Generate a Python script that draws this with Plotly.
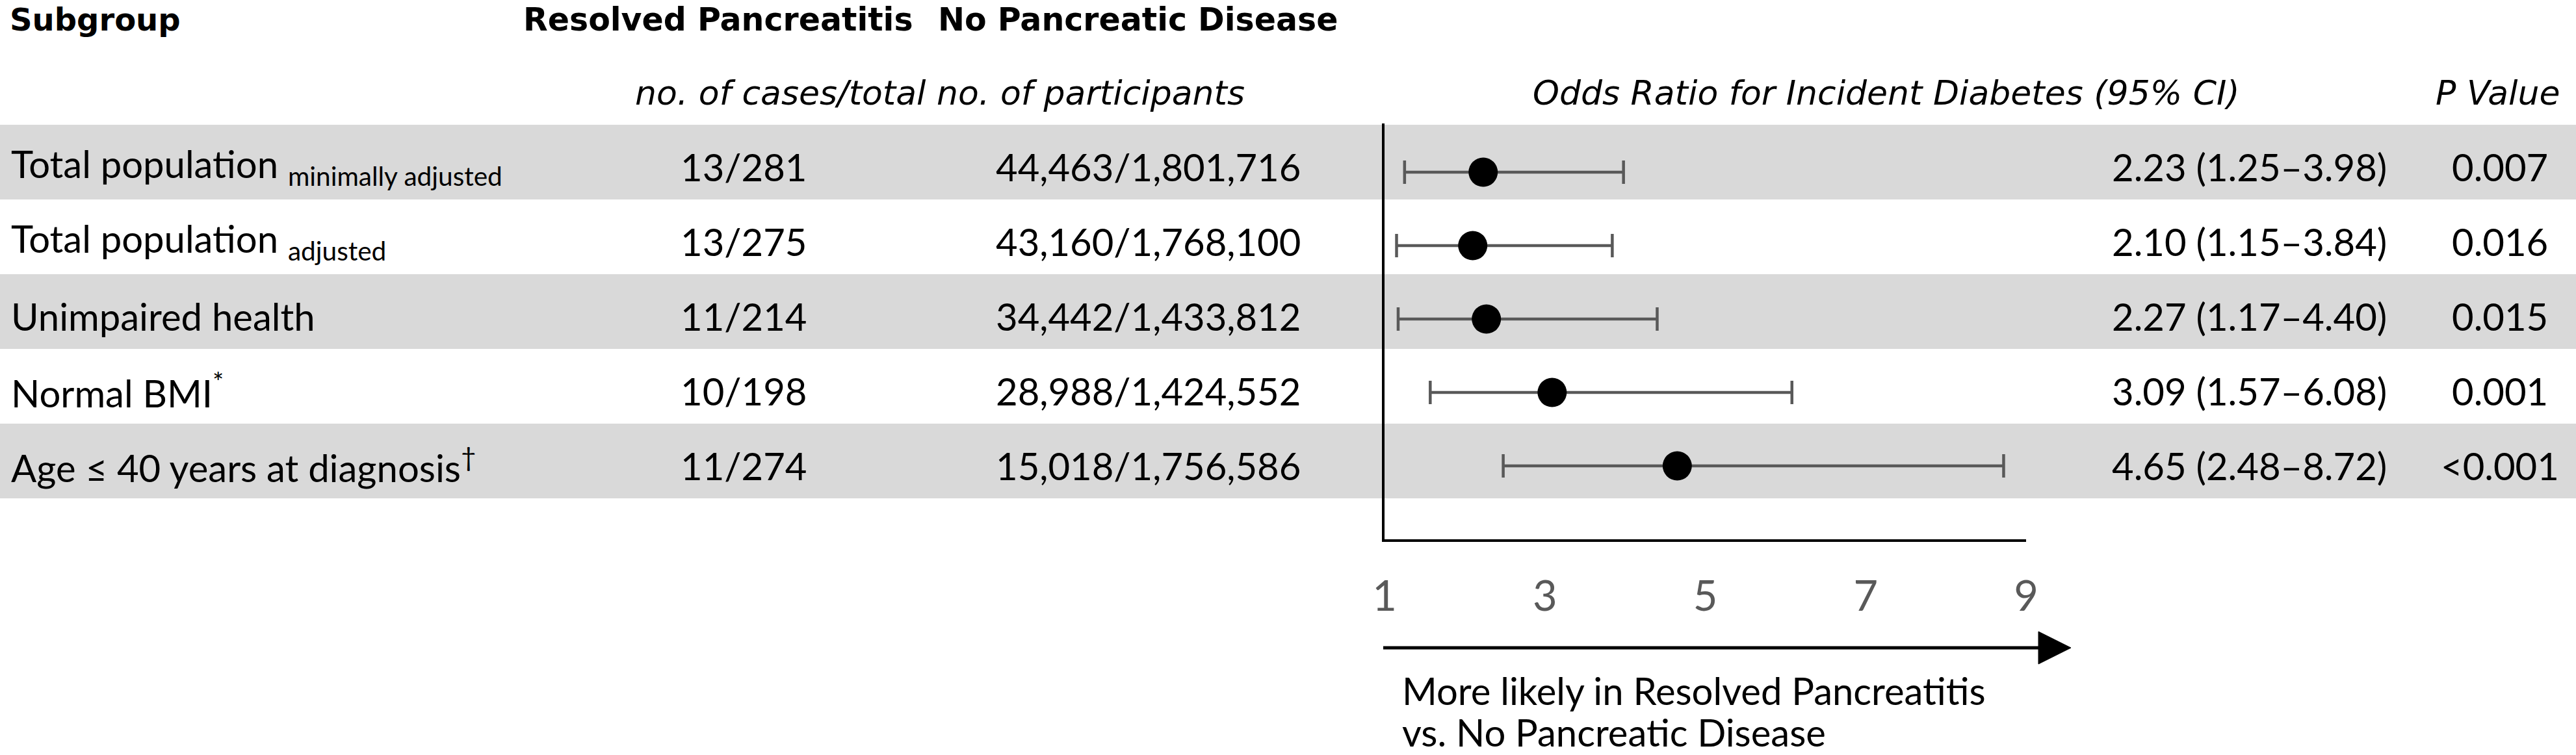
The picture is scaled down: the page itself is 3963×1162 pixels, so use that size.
import plotly.graph_objects as go

# ---------------- data ----------------
subgroups = [
    "Total population <sub>minimally adjusted</sub>",
    "Total population <sub>adjusted</sub>",
    "Unimpaired health",
    "Normal BMI<sup>*</sup>",
    "Age \u2264 40 years at diagnosis<sup>\u2020</sup>",
]
resolved_cases = ["13/281", "13/275", "11/214", "10/198", "11/274"]
no_disease_cases = ["44,463/1,801,716", "43,160/1,768,100", "34,442/1,433,812",
                    "28,988/1,424,552", "15,018/1,756,586"]
odds_ratio = [2.23, 2.10, 2.27, 3.09, 4.65]
ci_low = [1.25, 1.15, 1.17, 1.57, 2.48]
ci_high = [3.98, 3.84, 4.40, 6.08, 8.72]
p_values = ["0.007", "0.016", "0.015", "0.001", "<0.001"]
tick_values = [1, 3, 5, 7, 9]

header_bold = ["Subgroup", "Resolved Pancreatitis", "No Pancreatic Disease"]
header_italic = ["no. of cases/total no. of participants",
                 "Odds Ratio for Incident Diabetes (95% CI)", "P Value"]
direction_text = ["More likely in Resolved Pancreatitis", "vs. No Pancreatic Disease"]

# ---------------- layout constants (pixels) ----------------
W, H = 3963, 1162
FONT = "Lato, Carlito, 'Liberation Sans', sans-serif"
HFONT = "'DejaVu Sans', Verdana, sans-serif"
ROW_TOP, ROW_H = 192, 115
TEXT_Y0 = 256
BAND = "#D9D9D9"
GREY = "#595959"
AX_L, AX_R = 2130, 3117      # pixel positions of OR=1 and OR=9
AX_TOP, AX_BOT = 190, 830
MK_Y0, MK_PITCH = 265, 113
ARROW_Y, ARROW_X0, ARROW_BASE, ARROW_TIP, ARROW_HALF = 997, 2128, 3136, 3186, 25

n = len(subgroups)
rows = list(range(n))

fig = go.Figure()

# forest plot: error bars + points
fig.add_trace(go.Scatter(
    x=odds_ratio, y=rows, mode="markers",
    marker=dict(size=45, color="black", line=dict(width=0)),
    error_x=dict(type="data", symmetric=False,
                 array=[h - o for h, o in zip(ci_high, odds_ratio)],
                 arrayminus=[o - l for o, l in zip(odds_ratio, ci_low)],
                 thickness=4.5, width=18, color=GREY),
    xaxis="x2", yaxis="y2", hoverinfo="skip", showlegend=False,
))

shapes = []
for i in rows:
    if i % 2 == 0:
        shapes.append(dict(type="rect", xref="paper", yref="y",
                           x0=0, x1=1, y0=ROW_TOP + i * ROW_H, y1=ROW_TOP + (i + 1) * ROW_H,
                           fillcolor=BAND, line=dict(width=0), layer="below"))

# direction arrow (line + triangular head)
shapes.append(dict(type="line", xref="x", yref="y", x0=ARROW_X0, x1=ARROW_BASE + 4,
                   y0=ARROW_Y, y1=ARROW_Y, line=dict(color="black", width=5)))
shapes.append(dict(type="path", xref="x", yref="y",
                   path=f"M {ARROW_BASE},{ARROW_Y - ARROW_HALF} L {ARROW_TIP},{ARROW_Y} "
                        f"L {ARROW_BASE},{ARROW_Y + ARROW_HALF} Z",
                   fillcolor="black", line=dict(color="black", width=1)))

ann = []
def txt(x, y, s, size, xanchor="center", yanchor="middle", color="black",
        bold=False, italic=False, family=FONT):
    if bold:
        s = "<b>" + s + "</b>"
    if italic:
        s = "<i>" + s + "</i>"
    ann.append(dict(x=x, y=y, xref="x", yref="y", text=s, showarrow=False,
                    xanchor=xanchor, yanchor=yanchor,
                    font=dict(family=family, size=size, color=color)))

# headers
txt(13, 0, header_bold[0], 48, xanchor="left", yanchor="top", bold=True, family=HFONT)
txt(1105, 0, header_bold[1], 49, yanchor="top", bold=True, family=HFONT)
txt(1750, 0, header_bold[2], 49, yanchor="top", bold=True, family=HFONT)
txt(1446, 143, header_italic[0], 52, italic=True, family=HFONT)
txt(2902, 143, header_italic[1], 52, italic=True, family=HFONT)
txt(3842, 143, header_italic[2], 52, italic=True, family=HFONT)

# rows
for i in rows:
    y = TEXT_Y0 + i * ROW_H
    txt(15, y, subgroups[i], 58, xanchor="left")
    txt(1144, y, resolved_cases[i], 58)
    txt(1766, y, no_disease_cases[i], 58)
    txt(3674, y, f"{odds_ratio[i]:.2f} ({ci_low[i]:.2f}\u2013{ci_high[i]:.2f})", 58,
        xanchor="right")
    txt(3846, y, p_values[i], 58)

# caption under the arrow
txt(2155, 1062, direction_text[0], 58, xanchor="left")
txt(2155, 1126, direction_text[1], 58, xanchor="left")

fig.update_layout(
    width=W, height=H,
    margin=dict(l=0, r=0, t=0, b=0, pad=0, autoexpand=False),
    paper_bgcolor="white", plot_bgcolor="rgba(0,0,0,0)",
    shapes=shapes, annotations=ann, showlegend=False,
    xaxis=dict(range=[0, W], domain=[0, 1], visible=False, fixedrange=True,
               automargin=False),
    yaxis=dict(range=[H, 0], domain=[0, 1], visible=False, fixedrange=True,
               automargin=False),
    xaxis2=dict(domain=[AX_L / W, AX_R / W], range=[1, 9], anchor="y2",
                showline=True, linecolor="black", linewidth=4,
                tickvals=tick_values, ticks="", showgrid=False, zeroline=False,
                tickfont=dict(family=FONT, size=65, color=GREY),
                ticklabelstandoff=28, fixedrange=True, automargin=False),
    yaxis2=dict(domain=[1 - AX_BOT / H, 1 - AX_TOP / H],
                range=[(AX_BOT - MK_Y0) / MK_PITCH, (AX_TOP - MK_Y0) / MK_PITCH],
                anchor="x2", showline=True, linecolor="black", linewidth=4,
                showticklabels=False, ticks="", showgrid=False, zeroline=False,
                fixedrange=True, automargin=False),
)

fig.write_html(
    "out.html",
    config={"displayModeBar": False, "staticPlot": True},
    post_script="document.body.style.margin='0px';document.body.style.overflow='hidden';",
)
